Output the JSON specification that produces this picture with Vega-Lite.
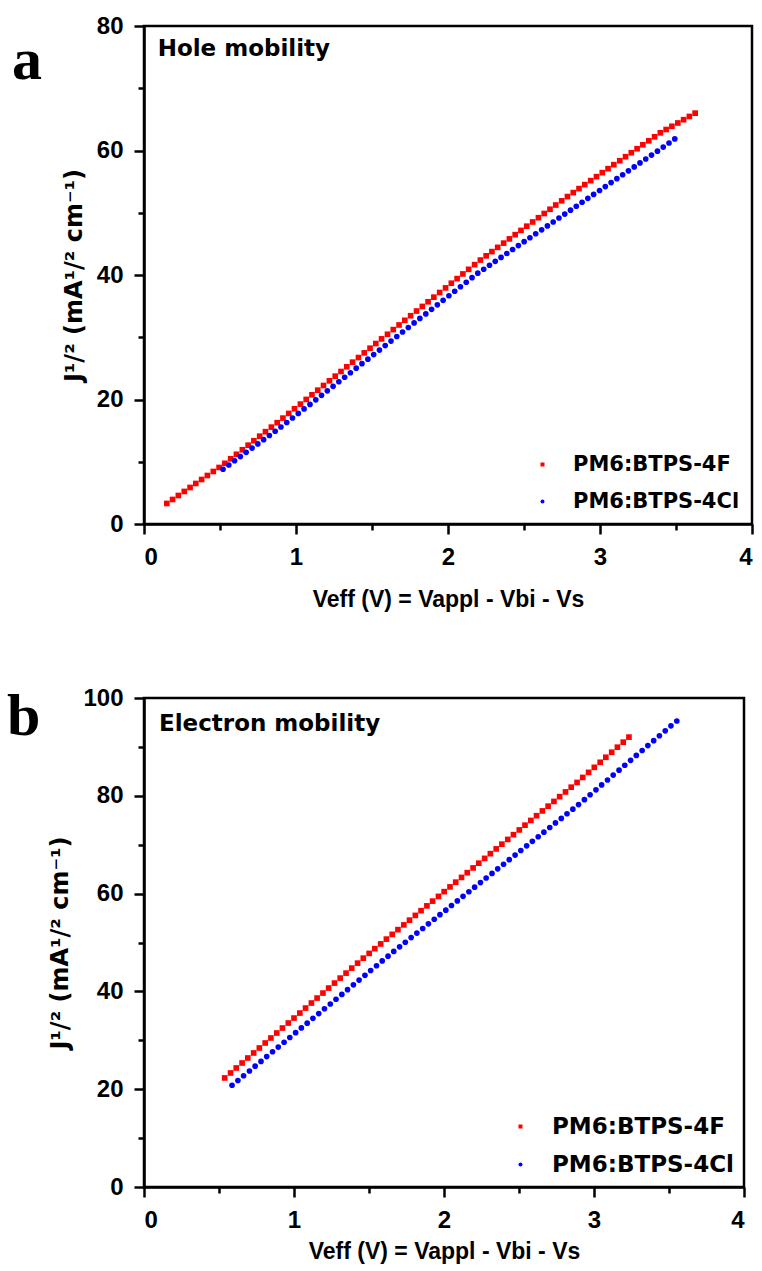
{
"$schema": "https://vega.github.io/schema/vega-lite/v6.json",
"background": "white",
"padding": {"left": 5, "top": 12, "right": 5, "bottom": 0},
"spacing": 71,
"datasets": {
"hole": [
{"v":0.150,"j":3.30,"s":"PM6:BTPS-4F"},{"v":0.188,"j":3.94,"s":"PM6:BTPS-4F"},{"v":0.226,"j":4.58,"s":"PM6:BTPS-4F"},{"v":0.265,"j":5.23,"s":"PM6:BTPS-4F"},{"v":0.303,"j":5.87,"s":"PM6:BTPS-4F"},{"v":0.341,"j":6.51,"s":"PM6:BTPS-4F"},{"v":0.379,"j":7.15,"s":"PM6:BTPS-4F"},{"v":0.417,"j":7.79,"s":"PM6:BTPS-4F"},{"v":0.456,"j":8.44,"s":"PM6:BTPS-4F"},{"v":0.494,"j":9.08,"s":"PM6:BTPS-4F"},
{"v":0.532,"j":9.75,"s":"PM6:BTPS-4F"},{"v":0.570,"j":10.48,"s":"PM6:BTPS-4F"},{"v":0.608,"j":11.20,"s":"PM6:BTPS-4F"},{"v":0.647,"j":11.93,"s":"PM6:BTPS-4F"},{"v":0.685,"j":12.66,"s":"PM6:BTPS-4F"},{"v":0.723,"j":13.38,"s":"PM6:BTPS-4F"},{"v":0.761,"j":14.11,"s":"PM6:BTPS-4F"},{"v":0.799,"j":14.83,"s":"PM6:BTPS-4F"},{"v":0.838,"j":15.56,"s":"PM6:BTPS-4F"},{"v":0.876,"j":16.28,"s":"PM6:BTPS-4F"},
{"v":0.914,"j":17.01,"s":"PM6:BTPS-4F"},{"v":0.952,"j":17.76,"s":"PM6:BTPS-4F"},{"v":0.990,"j":18.51,"s":"PM6:BTPS-4F"},{"v":1.029,"j":19.26,"s":"PM6:BTPS-4F"},{"v":1.067,"j":20.01,"s":"PM6:BTPS-4F"},{"v":1.105,"j":20.75,"s":"PM6:BTPS-4F"},{"v":1.143,"j":21.50,"s":"PM6:BTPS-4F"},{"v":1.181,"j":22.25,"s":"PM6:BTPS-4F"},{"v":1.220,"j":23.00,"s":"PM6:BTPS-4F"},{"v":1.258,"j":23.75,"s":"PM6:BTPS-4F"},
{"v":1.296,"j":24.50,"s":"PM6:BTPS-4F"},{"v":1.334,"j":25.25,"s":"PM6:BTPS-4F"},{"v":1.372,"j":26.00,"s":"PM6:BTPS-4F"},{"v":1.411,"j":26.74,"s":"PM6:BTPS-4F"},{"v":1.449,"j":27.49,"s":"PM6:BTPS-4F"},{"v":1.487,"j":28.24,"s":"PM6:BTPS-4F"},{"v":1.525,"j":28.99,"s":"PM6:BTPS-4F"},{"v":1.563,"j":29.74,"s":"PM6:BTPS-4F"},{"v":1.602,"j":30.48,"s":"PM6:BTPS-4F"},{"v":1.640,"j":31.23,"s":"PM6:BTPS-4F"},
{"v":1.678,"j":31.97,"s":"PM6:BTPS-4F"},{"v":1.716,"j":32.72,"s":"PM6:BTPS-4F"},{"v":1.754,"j":33.46,"s":"PM6:BTPS-4F"},{"v":1.793,"j":34.21,"s":"PM6:BTPS-4F"},{"v":1.831,"j":34.95,"s":"PM6:BTPS-4F"},{"v":1.869,"j":35.70,"s":"PM6:BTPS-4F"},{"v":1.907,"j":36.44,"s":"PM6:BTPS-4F"},{"v":1.945,"j":37.19,"s":"PM6:BTPS-4F"},{"v":1.984,"j":37.93,"s":"PM6:BTPS-4F"},{"v":2.022,"j":38.68,"s":"PM6:BTPS-4F"},
{"v":2.060,"j":39.42,"s":"PM6:BTPS-4F"},{"v":2.098,"j":40.17,"s":"PM6:BTPS-4F"},{"v":2.136,"j":40.91,"s":"PM6:BTPS-4F"},{"v":2.175,"j":41.66,"s":"PM6:BTPS-4F"},{"v":2.213,"j":42.40,"s":"PM6:BTPS-4F"},{"v":2.251,"j":43.08,"s":"PM6:BTPS-4F"},{"v":2.289,"j":43.76,"s":"PM6:BTPS-4F"},{"v":2.327,"j":44.44,"s":"PM6:BTPS-4F"},{"v":2.366,"j":45.12,"s":"PM6:BTPS-4F"},{"v":2.404,"j":45.80,"s":"PM6:BTPS-4F"},
{"v":2.442,"j":46.48,"s":"PM6:BTPS-4F"},{"v":2.480,"j":47.16,"s":"PM6:BTPS-4F"},{"v":2.518,"j":47.84,"s":"PM6:BTPS-4F"},{"v":2.557,"j":48.52,"s":"PM6:BTPS-4F"},{"v":2.595,"j":49.20,"s":"PM6:BTPS-4F"},{"v":2.633,"j":49.88,"s":"PM6:BTPS-4F"},{"v":2.671,"j":50.56,"s":"PM6:BTPS-4F"},{"v":2.709,"j":51.24,"s":"PM6:BTPS-4F"},{"v":2.748,"j":51.92,"s":"PM6:BTPS-4F"},{"v":2.786,"j":52.60,"s":"PM6:BTPS-4F"},
{"v":2.824,"j":53.24,"s":"PM6:BTPS-4F"},{"v":2.862,"j":53.88,"s":"PM6:BTPS-4F"},{"v":2.900,"j":54.52,"s":"PM6:BTPS-4F"},{"v":2.939,"j":55.16,"s":"PM6:BTPS-4F"},{"v":2.977,"j":55.80,"s":"PM6:BTPS-4F"},{"v":3.015,"j":56.44,"s":"PM6:BTPS-4F"},{"v":3.053,"j":57.08,"s":"PM6:BTPS-4F"},{"v":3.091,"j":57.72,"s":"PM6:BTPS-4F"},{"v":3.130,"j":58.36,"s":"PM6:BTPS-4F"},{"v":3.168,"j":59.00,"s":"PM6:BTPS-4F"},
{"v":3.206,"j":59.64,"s":"PM6:BTPS-4F"},{"v":3.244,"j":60.28,"s":"PM6:BTPS-4F"},{"v":3.282,"j":60.92,"s":"PM6:BTPS-4F"},{"v":3.321,"j":61.56,"s":"PM6:BTPS-4F"},{"v":3.359,"j":62.20,"s":"PM6:BTPS-4F"},{"v":3.397,"j":62.84,"s":"PM6:BTPS-4F"},{"v":3.435,"j":63.37,"s":"PM6:BTPS-4F"},{"v":3.473,"j":63.89,"s":"PM6:BTPS-4F"},{"v":3.512,"j":64.42,"s":"PM6:BTPS-4F"},{"v":3.550,"j":64.95,"s":"PM6:BTPS-4F"},
{"v":3.588,"j":65.47,"s":"PM6:BTPS-4F"},{"v":3.626,"j":66.00,"s":"PM6:BTPS-4F"},
{"v":0.520,"j":8.80,"s":"PM6:BTPS-4Cl"},{"v":0.558,"j":9.48,"s":"PM6:BTPS-4Cl"},{"v":0.596,"j":10.16,"s":"PM6:BTPS-4Cl"},{"v":0.634,"j":10.83,"s":"PM6:BTPS-4Cl"},{"v":0.672,"j":11.51,"s":"PM6:BTPS-4Cl"},{"v":0.711,"j":12.19,"s":"PM6:BTPS-4Cl"},{"v":0.749,"j":12.87,"s":"PM6:BTPS-4Cl"},{"v":0.787,"j":13.55,"s":"PM6:BTPS-4Cl"},{"v":0.825,"j":14.22,"s":"PM6:BTPS-4Cl"},{"v":0.863,"j":14.90,"s":"PM6:BTPS-4Cl"},
{"v":0.901,"j":15.58,"s":"PM6:BTPS-4Cl"},{"v":0.939,"j":16.31,"s":"PM6:BTPS-4Cl"},{"v":0.977,"j":17.03,"s":"PM6:BTPS-4Cl"},{"v":1.015,"j":17.76,"s":"PM6:BTPS-4Cl"},{"v":1.053,"j":18.49,"s":"PM6:BTPS-4Cl"},{"v":1.092,"j":19.21,"s":"PM6:BTPS-4Cl"},{"v":1.130,"j":19.94,"s":"PM6:BTPS-4Cl"},{"v":1.168,"j":20.67,"s":"PM6:BTPS-4Cl"},{"v":1.206,"j":21.39,"s":"PM6:BTPS-4Cl"},{"v":1.244,"j":22.12,"s":"PM6:BTPS-4Cl"},
{"v":1.282,"j":22.85,"s":"PM6:BTPS-4Cl"},{"v":1.320,"j":23.58,"s":"PM6:BTPS-4Cl"},{"v":1.358,"j":24.30,"s":"PM6:BTPS-4Cl"},{"v":1.396,"j":25.03,"s":"PM6:BTPS-4Cl"},{"v":1.434,"j":25.76,"s":"PM6:BTPS-4Cl"},{"v":1.473,"j":26.48,"s":"PM6:BTPS-4Cl"},{"v":1.511,"j":27.21,"s":"PM6:BTPS-4Cl"},{"v":1.549,"j":27.94,"s":"PM6:BTPS-4Cl"},{"v":1.587,"j":28.66,"s":"PM6:BTPS-4Cl"},{"v":1.625,"j":29.39,"s":"PM6:BTPS-4Cl"},
{"v":1.663,"j":30.12,"s":"PM6:BTPS-4Cl"},{"v":1.701,"j":30.85,"s":"PM6:BTPS-4Cl"},{"v":1.739,"j":31.57,"s":"PM6:BTPS-4Cl"},{"v":1.777,"j":32.30,"s":"PM6:BTPS-4Cl"},{"v":1.815,"j":33.03,"s":"PM6:BTPS-4Cl"},{"v":1.854,"j":33.75,"s":"PM6:BTPS-4Cl"},{"v":1.892,"j":34.48,"s":"PM6:BTPS-4Cl"},{"v":1.930,"j":35.21,"s":"PM6:BTPS-4Cl"},{"v":1.968,"j":35.93,"s":"PM6:BTPS-4Cl"},{"v":2.006,"j":36.66,"s":"PM6:BTPS-4Cl"},
{"v":2.044,"j":37.39,"s":"PM6:BTPS-4Cl"},{"v":2.082,"j":38.12,"s":"PM6:BTPS-4Cl"},{"v":2.120,"j":38.84,"s":"PM6:BTPS-4Cl"},{"v":2.158,"j":39.57,"s":"PM6:BTPS-4Cl"},{"v":2.196,"j":40.30,"s":"PM6:BTPS-4Cl"},{"v":2.235,"j":40.93,"s":"PM6:BTPS-4Cl"},{"v":2.273,"j":41.56,"s":"PM6:BTPS-4Cl"},{"v":2.311,"j":42.20,"s":"PM6:BTPS-4Cl"},{"v":2.349,"j":42.83,"s":"PM6:BTPS-4Cl"},{"v":2.387,"j":43.46,"s":"PM6:BTPS-4Cl"},
{"v":2.425,"j":44.09,"s":"PM6:BTPS-4Cl"},{"v":2.463,"j":44.72,"s":"PM6:BTPS-4Cl"},{"v":2.501,"j":45.36,"s":"PM6:BTPS-4Cl"},{"v":2.539,"j":45.99,"s":"PM6:BTPS-4Cl"},{"v":2.577,"j":46.62,"s":"PM6:BTPS-4Cl"},{"v":2.616,"j":47.25,"s":"PM6:BTPS-4Cl"},{"v":2.654,"j":47.88,"s":"PM6:BTPS-4Cl"},{"v":2.692,"j":48.52,"s":"PM6:BTPS-4Cl"},{"v":2.730,"j":49.15,"s":"PM6:BTPS-4Cl"},{"v":2.768,"j":49.78,"s":"PM6:BTPS-4Cl"},
{"v":2.806,"j":50.41,"s":"PM6:BTPS-4Cl"},{"v":2.844,"j":51.04,"s":"PM6:BTPS-4Cl"},{"v":2.882,"j":51.68,"s":"PM6:BTPS-4Cl"},{"v":2.920,"j":52.31,"s":"PM6:BTPS-4Cl"},{"v":2.958,"j":52.94,"s":"PM6:BTPS-4Cl"},{"v":2.997,"j":53.57,"s":"PM6:BTPS-4Cl"},{"v":3.035,"j":54.20,"s":"PM6:BTPS-4Cl"},{"v":3.073,"j":54.84,"s":"PM6:BTPS-4Cl"},{"v":3.111,"j":55.47,"s":"PM6:BTPS-4Cl"},{"v":3.149,"j":56.10,"s":"PM6:BTPS-4Cl"},
{"v":3.187,"j":56.73,"s":"PM6:BTPS-4Cl"},{"v":3.225,"j":57.36,"s":"PM6:BTPS-4Cl"},{"v":3.263,"j":58.00,"s":"PM6:BTPS-4Cl"},{"v":3.301,"j":58.63,"s":"PM6:BTPS-4Cl"},{"v":3.339,"j":59.26,"s":"PM6:BTPS-4Cl"},{"v":3.378,"j":59.89,"s":"PM6:BTPS-4Cl"},{"v":3.416,"j":60.55,"s":"PM6:BTPS-4Cl"},{"v":3.454,"j":61.20,"s":"PM6:BTPS-4Cl"},{"v":3.492,"j":61.86,"s":"PM6:BTPS-4Cl"}
],
"elec": [
{"v":0.538,"j":22.30,"s":"PM6:BTPS-4F"},{"v":0.577,"j":23.32,"s":"PM6:BTPS-4F"},{"v":0.615,"j":24.34,"s":"PM6:BTPS-4F"},{"v":0.654,"j":25.36,"s":"PM6:BTPS-4F"},{"v":0.692,"j":26.38,"s":"PM6:BTPS-4F"},{"v":0.731,"j":27.41,"s":"PM6:BTPS-4F"},{"v":0.769,"j":28.43,"s":"PM6:BTPS-4F"},{"v":0.808,"j":29.45,"s":"PM6:BTPS-4F"},{"v":0.846,"j":30.47,"s":"PM6:BTPS-4F"},{"v":0.885,"j":31.49,"s":"PM6:BTPS-4F"},
{"v":0.923,"j":32.51,"s":"PM6:BTPS-4F"},{"v":0.962,"j":33.53,"s":"PM6:BTPS-4F"},{"v":1.000,"j":34.55,"s":"PM6:BTPS-4F"},{"v":1.039,"j":35.57,"s":"PM6:BTPS-4F"},{"v":1.077,"j":36.59,"s":"PM6:BTPS-4F"},{"v":1.116,"j":37.62,"s":"PM6:BTPS-4F"},{"v":1.154,"j":38.64,"s":"PM6:BTPS-4F"},{"v":1.193,"j":39.66,"s":"PM6:BTPS-4F"},{"v":1.231,"j":40.68,"s":"PM6:BTPS-4F"},{"v":1.270,"j":41.70,"s":"PM6:BTPS-4F"},
{"v":1.308,"j":42.72,"s":"PM6:BTPS-4F"},{"v":1.347,"j":43.74,"s":"PM6:BTPS-4F"},{"v":1.385,"j":44.76,"s":"PM6:BTPS-4F"},{"v":1.424,"j":45.78,"s":"PM6:BTPS-4F"},{"v":1.462,"j":46.80,"s":"PM6:BTPS-4F"},{"v":1.501,"j":47.77,"s":"PM6:BTPS-4F"},{"v":1.539,"j":48.74,"s":"PM6:BTPS-4F"},{"v":1.578,"j":49.71,"s":"PM6:BTPS-4F"},{"v":1.616,"j":50.69,"s":"PM6:BTPS-4F"},{"v":1.655,"j":51.66,"s":"PM6:BTPS-4F"},
{"v":1.693,"j":52.63,"s":"PM6:BTPS-4F"},{"v":1.732,"j":53.60,"s":"PM6:BTPS-4F"},{"v":1.770,"j":54.57,"s":"PM6:BTPS-4F"},{"v":1.809,"j":55.54,"s":"PM6:BTPS-4F"},{"v":1.847,"j":56.51,"s":"PM6:BTPS-4F"},{"v":1.886,"j":57.49,"s":"PM6:BTPS-4F"},{"v":1.924,"j":58.46,"s":"PM6:BTPS-4F"},{"v":1.963,"j":59.43,"s":"PM6:BTPS-4F"},{"v":2.001,"j":60.40,"s":"PM6:BTPS-4F"},{"v":2.040,"j":61.37,"s":"PM6:BTPS-4F"},
{"v":2.078,"j":62.34,"s":"PM6:BTPS-4F"},{"v":2.117,"j":63.31,"s":"PM6:BTPS-4F"},{"v":2.155,"j":64.28,"s":"PM6:BTPS-4F"},{"v":2.194,"j":65.25,"s":"PM6:BTPS-4F"},{"v":2.232,"j":66.22,"s":"PM6:BTPS-4F"},{"v":2.271,"j":67.20,"s":"PM6:BTPS-4F"},{"v":2.309,"j":68.17,"s":"PM6:BTPS-4F"},{"v":2.348,"j":69.14,"s":"PM6:BTPS-4F"},{"v":2.386,"j":70.11,"s":"PM6:BTPS-4F"},{"v":2.425,"j":71.08,"s":"PM6:BTPS-4F"},
{"v":2.463,"j":72.05,"s":"PM6:BTPS-4F"},{"v":2.502,"j":73.02,"s":"PM6:BTPS-4F"},{"v":2.540,"j":73.99,"s":"PM6:BTPS-4F"},{"v":2.579,"j":74.96,"s":"PM6:BTPS-4F"},{"v":2.617,"j":75.93,"s":"PM6:BTPS-4F"},{"v":2.656,"j":76.91,"s":"PM6:BTPS-4F"},{"v":2.694,"j":77.88,"s":"PM6:BTPS-4F"},{"v":2.733,"j":78.85,"s":"PM6:BTPS-4F"},{"v":2.771,"j":79.82,"s":"PM6:BTPS-4F"},{"v":2.810,"j":80.79,"s":"PM6:BTPS-4F"},
{"v":2.848,"j":81.76,"s":"PM6:BTPS-4F"},{"v":2.887,"j":82.73,"s":"PM6:BTPS-4F"},{"v":2.925,"j":83.76,"s":"PM6:BTPS-4F"},{"v":2.964,"j":84.79,"s":"PM6:BTPS-4F"},{"v":3.002,"j":85.82,"s":"PM6:BTPS-4F"},{"v":3.041,"j":86.85,"s":"PM6:BTPS-4F"},{"v":3.079,"j":87.88,"s":"PM6:BTPS-4F"},{"v":3.118,"j":88.91,"s":"PM6:BTPS-4F"},{"v":3.156,"j":89.94,"s":"PM6:BTPS-4F"},{"v":3.195,"j":90.97,"s":"PM6:BTPS-4F"},
{"v":3.233,"j":92.00,"s":"PM6:BTPS-4F"},
{"v":0.587,"j":20.80,"s":"PM6:BTPS-4Cl"},{"v":0.626,"j":21.78,"s":"PM6:BTPS-4Cl"},{"v":0.664,"j":22.76,"s":"PM6:BTPS-4Cl"},{"v":0.703,"j":23.73,"s":"PM6:BTPS-4Cl"},{"v":0.741,"j":24.71,"s":"PM6:BTPS-4Cl"},{"v":0.780,"j":25.69,"s":"PM6:BTPS-4Cl"},{"v":0.818,"j":26.67,"s":"PM6:BTPS-4Cl"},{"v":0.857,"j":27.65,"s":"PM6:BTPS-4Cl"},{"v":0.895,"j":28.62,"s":"PM6:BTPS-4Cl"},{"v":0.934,"j":29.60,"s":"PM6:BTPS-4Cl"},
{"v":0.972,"j":30.58,"s":"PM6:BTPS-4Cl"},{"v":1.011,"j":31.56,"s":"PM6:BTPS-4Cl"},{"v":1.049,"j":32.54,"s":"PM6:BTPS-4Cl"},{"v":1.088,"j":33.51,"s":"PM6:BTPS-4Cl"},{"v":1.126,"j":34.49,"s":"PM6:BTPS-4Cl"},{"v":1.165,"j":35.47,"s":"PM6:BTPS-4Cl"},{"v":1.203,"j":36.45,"s":"PM6:BTPS-4Cl"},{"v":1.242,"j":37.43,"s":"PM6:BTPS-4Cl"},{"v":1.280,"j":38.40,"s":"PM6:BTPS-4Cl"},{"v":1.319,"j":39.38,"s":"PM6:BTPS-4Cl"},
{"v":1.357,"j":40.36,"s":"PM6:BTPS-4Cl"},{"v":1.396,"j":41.34,"s":"PM6:BTPS-4Cl"},{"v":1.434,"j":42.32,"s":"PM6:BTPS-4Cl"},{"v":1.473,"j":43.29,"s":"PM6:BTPS-4Cl"},{"v":1.511,"j":44.27,"s":"PM6:BTPS-4Cl"},{"v":1.550,"j":45.25,"s":"PM6:BTPS-4Cl"},{"v":1.588,"j":46.23,"s":"PM6:BTPS-4Cl"},{"v":1.627,"j":47.21,"s":"PM6:BTPS-4Cl"},{"v":1.665,"j":48.18,"s":"PM6:BTPS-4Cl"},{"v":1.704,"j":49.12,"s":"PM6:BTPS-4Cl"},
{"v":1.742,"j":50.06,"s":"PM6:BTPS-4Cl"},{"v":1.781,"j":51.00,"s":"PM6:BTPS-4Cl"},{"v":1.819,"j":51.93,"s":"PM6:BTPS-4Cl"},{"v":1.858,"j":52.87,"s":"PM6:BTPS-4Cl"},{"v":1.896,"j":53.81,"s":"PM6:BTPS-4Cl"},{"v":1.935,"j":54.75,"s":"PM6:BTPS-4Cl"},{"v":1.973,"j":55.69,"s":"PM6:BTPS-4Cl"},{"v":2.012,"j":56.62,"s":"PM6:BTPS-4Cl"},{"v":2.050,"j":57.56,"s":"PM6:BTPS-4Cl"},{"v":2.089,"j":58.50,"s":"PM6:BTPS-4Cl"},
{"v":2.127,"j":59.44,"s":"PM6:BTPS-4Cl"},{"v":2.166,"j":60.38,"s":"PM6:BTPS-4Cl"},{"v":2.204,"j":61.31,"s":"PM6:BTPS-4Cl"},{"v":2.243,"j":62.25,"s":"PM6:BTPS-4Cl"},{"v":2.281,"j":63.19,"s":"PM6:BTPS-4Cl"},{"v":2.320,"j":64.13,"s":"PM6:BTPS-4Cl"},{"v":2.358,"j":65.07,"s":"PM6:BTPS-4Cl"},{"v":2.397,"j":66.00,"s":"PM6:BTPS-4Cl"},{"v":2.435,"j":66.94,"s":"PM6:BTPS-4Cl"},{"v":2.474,"j":67.88,"s":"PM6:BTPS-4Cl"},
{"v":2.512,"j":68.82,"s":"PM6:BTPS-4Cl"},{"v":2.551,"j":69.76,"s":"PM6:BTPS-4Cl"},{"v":2.589,"j":70.69,"s":"PM6:BTPS-4Cl"},{"v":2.628,"j":71.63,"s":"PM6:BTPS-4Cl"},{"v":2.666,"j":72.57,"s":"PM6:BTPS-4Cl"},{"v":2.705,"j":73.51,"s":"PM6:BTPS-4Cl"},{"v":2.743,"j":74.45,"s":"PM6:BTPS-4Cl"},{"v":2.782,"j":75.38,"s":"PM6:BTPS-4Cl"},{"v":2.820,"j":76.32,"s":"PM6:BTPS-4Cl"},{"v":2.859,"j":77.26,"s":"PM6:BTPS-4Cl"},
{"v":2.897,"j":78.20,"s":"PM6:BTPS-4Cl"},{"v":2.936,"j":79.21,"s":"PM6:BTPS-4Cl"},{"v":2.974,"j":80.21,"s":"PM6:BTPS-4Cl"},{"v":3.013,"j":81.22,"s":"PM6:BTPS-4Cl"},{"v":3.051,"j":82.22,"s":"PM6:BTPS-4Cl"},{"v":3.090,"j":83.23,"s":"PM6:BTPS-4Cl"},{"v":3.128,"j":84.24,"s":"PM6:BTPS-4Cl"},{"v":3.167,"j":85.24,"s":"PM6:BTPS-4Cl"},{"v":3.205,"j":86.25,"s":"PM6:BTPS-4Cl"},{"v":3.244,"j":87.25,"s":"PM6:BTPS-4Cl"},
{"v":3.282,"j":88.26,"s":"PM6:BTPS-4Cl"},{"v":3.321,"j":89.27,"s":"PM6:BTPS-4Cl"},{"v":3.359,"j":90.27,"s":"PM6:BTPS-4Cl"},{"v":3.398,"j":91.28,"s":"PM6:BTPS-4Cl"},{"v":3.436,"j":92.28,"s":"PM6:BTPS-4Cl"},{"v":3.475,"j":93.29,"s":"PM6:BTPS-4Cl"},{"v":3.513,"j":94.30,"s":"PM6:BTPS-4Cl"},{"v":3.552,"j":95.30,"s":"PM6:BTPS-4Cl"}
]
},
"vconcat": [
{
"width": 608, "height": 498,
"layer": [
{
"data": {"name": "hole"},
"mark": {"type": "point", "filled": true, "opacity": 1, "size": 32, "strokeWidth": 0},
"encoding": {
"x": {"field": "v", "type": "quantitative", "scale": {"domain": [0, 4], "nice": false},
 "axis": {"values": [0, 0.5, 1, 1.5, 2, 2.5, 3, 3.5, 4], "labelExpr": "datum.value % 1 === 0 ? format(datum.value, 'd') : ''", "tickSize": {"condition": {"test": "datum.value % 1 === 0", "value": 10}, "value": 6}, "title": "Veff (V) = Vappl - Vbi - Vs", "titlePadding": 19}},
"y": {"field": "j", "type": "quantitative", "scale": {"domain": [0, 80], "nice": false},
 "axis": {"values": [0, 10, 20, 30, 40, 50, 60, 70, 80], "labelExpr": "datum.value % 20 === 0 ? format(datum.value, 'd') : ''", "tickSize": {"condition": {"test": "datum.value % 20 === 0", "value": 10}, "value": 6}, "title": "J¹/² (mA¹/² cm⁻¹)"}},
"color": {"field": "s", "type": "nominal", "scale": {"domain": ["PM6:BTPS-4F", "PM6:BTPS-4Cl"], "range": ["#ff0000", "#0000ff"]},
 "legend": {"title": null, "orient": "bottom-right", "offset": 12, "labelFontSize": 21, "symbolSize": 16, "rowPadding": 15, "labelOffset": 20, "labelLimit": 400}},
"shape": {"field": "s", "type": "nominal", "scale": {"domain": ["PM6:BTPS-4F", "PM6:BTPS-4Cl"], "range": ["square", "circle"]}}
}
},
{
"data": {"values": [{"label": "Hole mobility"}]},
"mark": {"type": "text", "align": "left", "baseline": "alphabetic", "font": "DejaVu Sans", "fontSize": 23, "fontWeight": "bold", "color": "black"},
"encoding": {"x": {"datum": 0.09}, "y": {"datum": 75.2}, "text": {"field": "label"}}
},
{
"data": {"values": [{"label": "a"}]},
"mark": {"type": "text", "align": "left", "baseline": "alphabetic", "font": "Liberation Serif", "fontSize": 60, "fontWeight": "bold", "color": "black", "clip": false},
"encoding": {"x": {"datum": -0.868}, "y": {"datum": 71.5}, "text": {"field": "label"}}
}
]
},
{
"width": 600, "height": 489,
"layer": [
{
"data": {"name": "elec"},
"mark": {"type": "point", "filled": true, "opacity": 1, "size": 32, "strokeWidth": 0},
"encoding": {
"x": {"field": "v", "type": "quantitative", "scale": {"domain": [0, 4], "nice": false},
 "axis": {"values": [0, 0.5, 1, 1.5, 2, 2.5, 3, 3.5, 4], "labelExpr": "datum.value % 1 === 0 ? format(datum.value, 'd') : ''", "tickSize": {"condition": {"test": "datum.value % 1 === 0", "value": 10}, "value": 6}, "title": "Veff (V) = Vappl - Vbi - Vs", "titlePadding": 8}},
"y": {"field": "j", "type": "quantitative", "scale": {"domain": [0, 100], "nice": false},
 "axis": {"values": [0, 10, 20, 30, 40, 50, 60, 70, 80, 90, 100], "labelExpr": "datum.value % 20 === 0 ? format(datum.value, 'd') : ''", "tickSize": {"condition": {"test": "datum.value % 20 === 0", "value": 10}, "value": 6}, "title": "J¹/² (mA¹/² cm⁻¹)"}},
"color": {"field": "s", "type": "nominal", "scale": {"domain": ["PM6:BTPS-4F", "PM6:BTPS-4Cl"], "range": ["#ff0000", "#0000ff"]},
 "legend": {"title": null, "orient": "bottom-right", "offset": 10, "labelFontSize": 23, "symbolSize": 16, "rowPadding": 14, "labelOffset": 20, "labelLimit": 400}},
"shape": {"field": "s", "type": "nominal", "scale": {"domain": ["PM6:BTPS-4F", "PM6:BTPS-4Cl"], "range": ["square", "circle"]}}
}
},
{
"data": {"values": [{"label": "Electron mobility"}]},
"mark": {"type": "text", "align": "left", "baseline": "alphabetic", "font": "DejaVu Sans", "fontSize": 23, "fontWeight": "bold", "color": "black"},
"encoding": {"x": {"datum": 0.1}, "y": {"datum": 93.2}, "text": {"field": "label"}}
},
{
"data": {"values": [{"label": "b"}]},
"mark": {"type": "text", "align": "left", "baseline": "alphabetic", "font": "Liberation Serif", "fontSize": 60, "fontWeight": "bold", "color": "black", "clip": false},
"encoding": {"x": {"datum": -0.913}, "y": {"datum": 92.4}, "text": {"field": "label"}}
}
]
}
],
"resolve": {"scale": {"color": "independent", "shape": "independent"}, "legend": {"color": "independent", "shape": "independent"}},
"config": {
"view": {"stroke": "black", "strokeWidth": 2.5},
"axis": {"grid": false, "domainColor": "black", "domainWidth": 2.5, "tickColor": "black", "tickWidth": 2.5, "labelFont": "Liberation Sans", "labelFontSize": 24, "labelFontWeight": "bold", "labelColor": "black", "labelPadding": 11, "titleColor": "black", "titleFontWeight": "bold"},
"axisX": {"titleFont": "Liberation Sans", "titleFontSize": 23},
"axisY": {"titleFont": "DejaVu Sans", "titleFontSize": 24, "labelPadding": 11, "titlePadding": 10},
"legend": {"labelFont": "DejaVu Sans", "labelFontWeight": "bold", "labelColor": "black", "padding": 0, "symbolStrokeWidth": 0}
}
}
